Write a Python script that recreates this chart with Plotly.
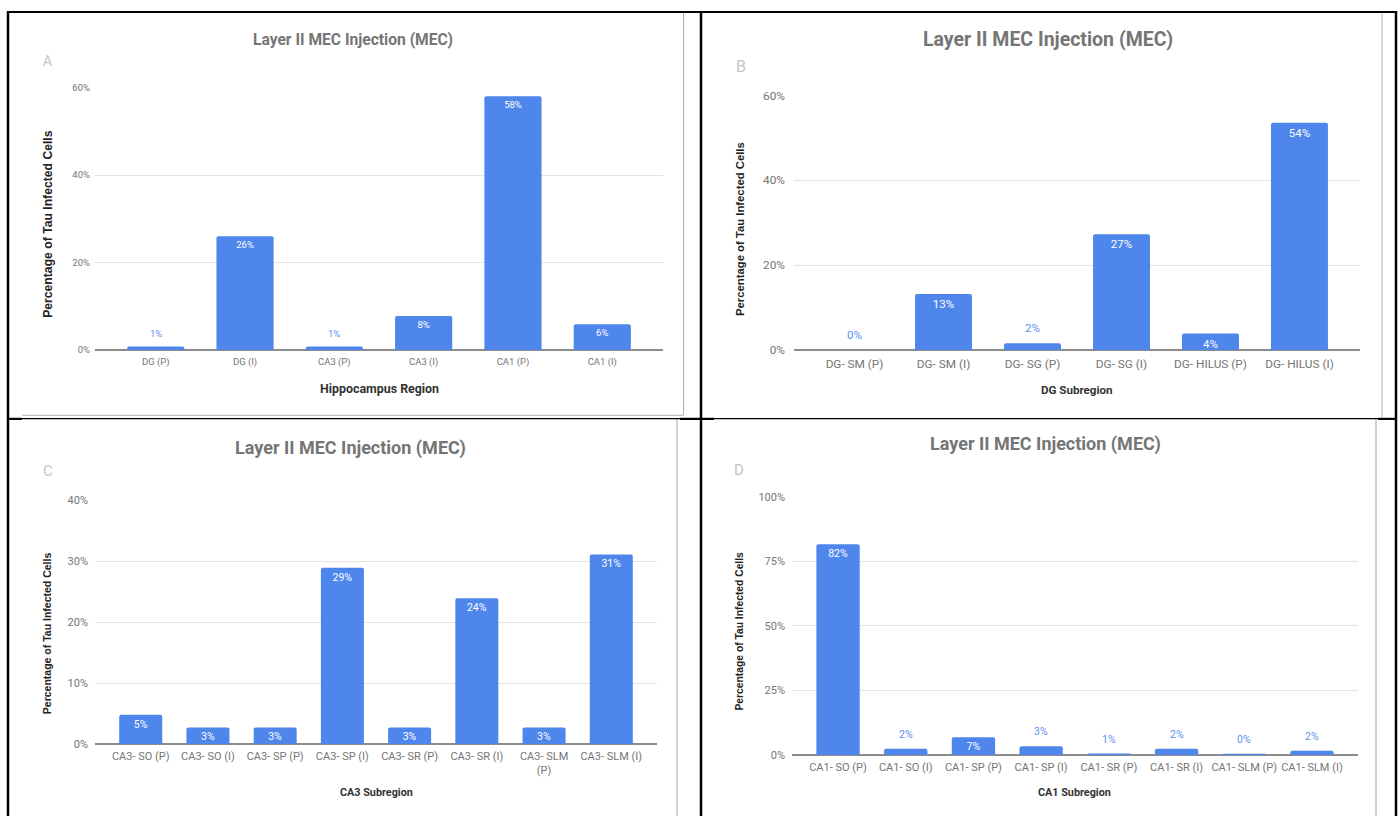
import plotly.graph_objects as go

W, H = 1399, 823

# ---------------- data ----------------
A_categories = ["DG (P)", "DG (I)", "CA3 (P)", "CA3 (I)", "CA1 (P)", "CA1 (I)"]
A_values = [0.8, 26.0, 0.8, 7.8, 58.0, 5.9]
A_y_ticks = [0, 20, 40, 60]

B_categories = ["DG- SM (P)", "DG- SM (I)", "DG- SG (P)", "DG- SG (I)", "DG- HILUS (P)", "DG- HILUS (I)"]
B_values = [0.0, 13.2, 1.6, 27.3, 3.9, 53.6]
B_y_ticks = [0, 20, 40, 60]

C_categories = ["CA3- SO (P)", "CA3- SO (I)", "CA3- SP (P)", "CA3- SP (I)",
                "CA3- SR (P)", "CA3- SR (I)", "CA3- SLM (P)", "CA3- SLM (I)"]
C_tick_labels = ["CA3- SO (P)", "CA3- SO (I)", "CA3- SP (P)", "CA3- SP (I)",
                 "CA3- SR (P)", "CA3- SR (I)", "CA3- SLM<br>(P)", "CA3- SLM (I)"]
C_values = [4.8, 2.7, 2.7, 28.9, 2.7, 23.9, 2.7, 31.1]
C_y_ticks = [0, 10, 20, 30, 40]

D_categories = ["CA1- SO (P)", "CA1- SO (I)", "CA1- SP (P)", "CA1- SP (I)",
                "CA1- SR (P)", "CA1- SR (I)", "CA1- SLM (P)", "CA1- SLM (I)"]
D_values = [81.6, 2.4, 6.9, 3.4, 0.6, 2.4, 0.4, 1.7]
D_y_ticks = [0, 25, 50, 75, 100]

chart_title = "Layer II MEC Injection (MEC)"
y_title = "Percentage of Tau Infected Cells"

# ---------------- styles ----------------
BAR = "#4F86EC"
OUT_LABEL = "#5B8FEF"
TITLE_C = "#757575"
LETTER_C = "#C4C4C4"
TICK_C = "#757575"
GRID_C = "#E3E3E3"
BASE_C = "#8C8C8C"
FONT = "Roboto"
ARIAL = "Liberation Sans, Arial"

panels = [
    dict(cats=A_categories, ticks=A_categories, vals=A_values, yt=A_y_ticks,
         x=(95, 663), y=(82, 349), title_xy=(352.7, 33.3), title_size=15.6,
         letter="A", letter_xy=(47, 55), letter_size=14,
         xtitle="Hippocampus Region", xtitle_xy=(379, 388.3), xtitle_size=12.4,
         ytitle_xy=(47.8, 220.8), ytitle_size=12.2, tick_size=9.5, label_size=9.5,
         ystand=4, xstand=4),
    dict(cats=B_categories, ticks=B_categories, vals=B_values, yt=B_y_ticks,
         x=(794, 1360), y=(90, 349), title_xy=(1048, 33.3), title_size=19.5,
         letter="B", letter_xy=(741, 61), letter_size=16,
         xtitle="DG Subregion", xtitle_xy=(1077, 390), xtitle_size=11.6,
         ytitle_xy=(740, 225.8), ytitle_size=11.3, tick_size=11.8, label_size=11.5,
         ystand=8, xstand=5),
    dict(cats=C_categories, ticks=C_tick_labels, vals=C_values, yt=C_y_ticks,
         x=(95, 657), y=(501.7, 749.7), title_xy=(350, 448.3), title_size=18,
         letter="C", letter_xy=(48, 472.5), letter_size=15,
         xtitle="CA3 Subregion", xtitle_xy=(376, 799.3), xtitle_size=10.8,
         ytitle_xy=(47, 637), ytitle_size=10.5, tick_size=11, label_size=10.5,
         ystand=6, xstand=4),
    dict(cats=D_categories, ticks=D_categories, vals=D_values, yt=D_y_ticks,
         x=(792, 1358), y=(498.3, 761), title_xy=(1045.3, 445), title_size=18,
         letter="D", letter_xy=(739.5, 471), letter_size=15,
         xtitle="CA1 Subregion", xtitle_xy=(1074, 799), xtitle_size=10.8,
         ytitle_xy=(739.3, 635), ytitle_size=10.3, tick_size=11, label_size=10.5,
         ystand=6, xstand=4),
]


def px(x):
    return x / W


def py(y):
    return 1 - y / H


fig = go.Figure()
annotations = []
layout_axes = {}

for i, p in enumerate(panels, start=1):
    xa = "x" if i == 1 else f"x{i}"
    ya = "y" if i == 1 else f"y{i}"
    xkey = "xaxis" if i == 1 else f"xaxis{i}"
    ykey = "yaxis" if i == 1 else f"yaxis{i}"
    ymax = p["yt"][-1]
    plot_h = p["y"][1] - p["y"][0]
    n = len(p["cats"])

    inside = [v / ymax * plot_h > 12 for v in p["vals"]]
    texts = [f"{v:.0f}%" for v in p["vals"]]
    fig.add_trace(go.Bar(
        x=p["cats"], y=p["vals"], xaxis=xa, yaxis=ya,
        marker=dict(color=BAR, cornerradius=2, line=dict(width=0)),
        text=[t if ins else "" for t, ins in zip(texts, inside)],
        textposition=["inside" if ins else "none" for ins in inside],
        insidetextanchor="end", constraintext="none",
        insidetextfont=dict(family=FONT, size=p["label_size"], color="white"),
        cliponaxis=False, showlegend=False, hoverinfo="skip",
    ))
    for c, v, t, ins in zip(p["cats"], p["vals"], texts, inside):
        if not ins:
            annotations.append(dict(
                x=c, y=v, xref=xa, yref=ya, text=t, showarrow=False,
                yanchor="bottom", yshift=6,
                font=dict(family=FONT, size=p["label_size"], color=OUT_LABEL)))

    pad = 0.18
    layout_axes[xkey] = dict(
        domain=[px(p["x"][0]), px(p["x"][1])], anchor=ya, type="category",
        range=[-0.5 - pad, n - 0.5 + pad], tickvals=p["cats"], ticktext=p["ticks"],
        showgrid=False, zeroline=False, showline=False, ticks="",
        tickfont=dict(family=FONT, size=p["tick_size"], color=TICK_C),
        ticklabelstandoff=p["xstand"], fixedrange=True,
    )
    layout_axes[ykey] = dict(
        domain=[py(p["y"][1]), py(p["y"][0])], anchor=xa,
        range=[0, ymax], tickmode="array", tickvals=p["yt"],
        ticktext=[f"{t}%" for t in p["yt"]],
        showgrid=True, gridcolor=GRID_C, gridwidth=1,
        zeroline=True, zerolinecolor=BASE_C, zerolinewidth=1.6,
        showline=False, ticks="",
        tickfont=dict(family=FONT, size=p["tick_size"], color=TICK_C),
        ticklabelstandoff=p["ystand"], fixedrange=True,
    )

    annotations.append(dict(
        x=px(p["title_xy"][0]), y=py(p["title_xy"][1]), xref="paper", yref="paper",
        text=f"<b>{chart_title}</b>", showarrow=False, xanchor="center", yanchor="middle",
        font=dict(family=FONT, size=p["title_size"], color=TITLE_C)))
    annotations.append(dict(
        x=px(p["letter_xy"][0]), y=py(p["letter_xy"][1]), xref="paper", yref="paper",
        text=p["letter"], showarrow=False, xanchor="center", yanchor="middle",
        font=dict(family=FONT, size=p["letter_size"], color=LETTER_C)))
    annotations.append(dict(
        x=px(p["xtitle_xy"][0]), y=py(p["xtitle_xy"][1]), xref="paper", yref="paper",
        text=f"<b>{p['xtitle']}</b>", showarrow=False, xanchor="center", yanchor="middle",
        font=dict(family=FONT, size=p["xtitle_size"], color="#333333")))
    annotations.append(dict(
        x=px(p["ytitle_xy"][0]), y=py(p["ytitle_xy"][1]), xref="paper", yref="paper",
        text=f"<b>{y_title}</b>", showarrow=False, xanchor="center", yanchor="middle",
        textangle=-90,
        font=dict(family=ARIAL, size=p["ytitle_size"], color="#222222")))


def line(x0, y0, x1, y1, color="black", width=2):
    return dict(type="line", xref="paper", yref="paper",
                x0=px(x0), y0=py(y0), x1=px(x1), y1=py(y1),
                line=dict(color=color, width=width), layer="above")


shapes = [
    # gray edges of the pasted chart images
    line(683.5, 5, 683.5, 415.3, "#B0B0B0", 1),
    line(22, 415.3, 683.5, 415.3, "#B0B0B0", 1.2),
    line(1382, 5, 1382, 417.5, "#B0B0B0", 1),
    line(677, 419, 677, 823, "#A8A8A8", 1),
    line(1376, 419, 1376, 823, "#A8A8A8", 1),
    # black table borders
    line(7, 5, 1397, 5, "black", 2),
    line(8, 4, 8, 823, "black", 2.5),
    line(701, 4, 701, 823, "black", 2.5),
    line(1396, 4, 1396, 823, "black", 2.5),
    line(8, 418.7, 1396, 418.7, "black", 1.2),
    line(8, 419, 22, 419, "black", 2.2),
    line(680, 419, 714, 419, "black", 2.2),
    line(1378, 419, 1396, 419, "black", 2.2),
]

fig.update_layout(
    width=W, height=H, autosize=False,
    margin=dict(l=0, r=0, t=0, b=0),
    paper_bgcolor="white", plot_bgcolor="white",
    bargap=0.36, showlegend=False,
    font=dict(family=FONT, color=TICK_C),
    annotations=annotations, shapes=shapes,
    **layout_axes,
)

fig.write_html("out.html", config={"displayModeBar": False},
               post_script="document.body.style.margin='0';document.body.style.overflow='hidden';")
